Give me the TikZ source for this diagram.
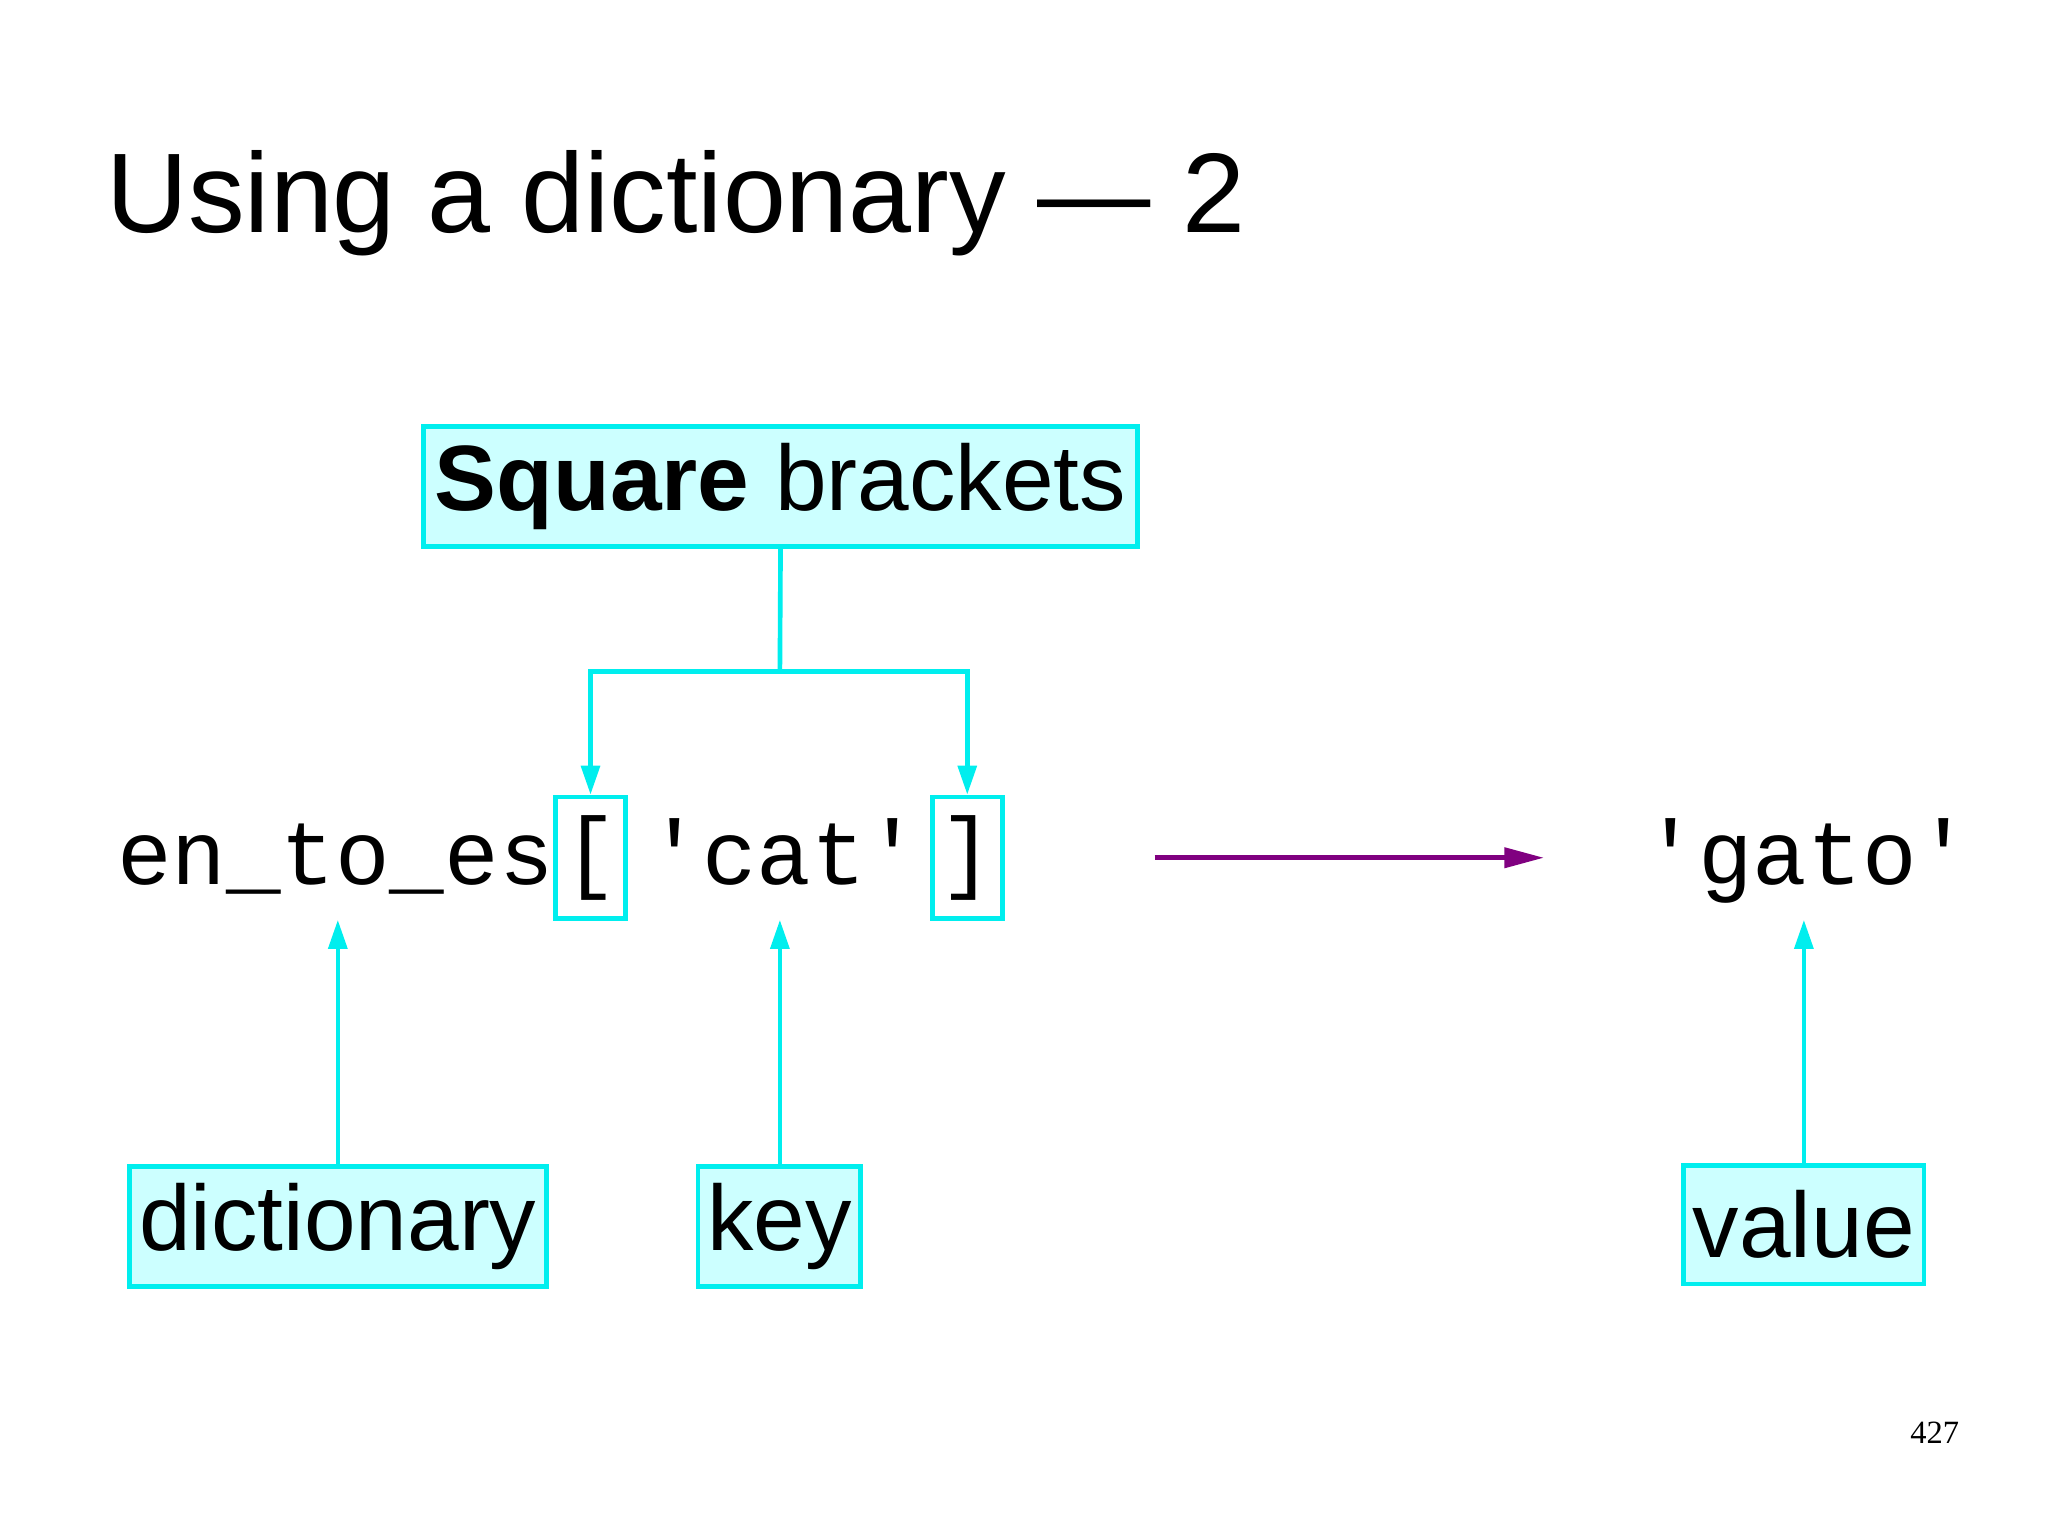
\documentclass[tikz,border=0pt]{standalone}
\usepackage{fontspec}
\setmainfont{Liberation Sans}
\newfontfamily\monof{Liberation Mono}
\newfontfamily\serf{Liberation Serif}
\usetikzlibrary{arrows.meta}
\definecolor{cy}{HTML}{00EEEE}
\definecolor{cyfill}{HTML}{CCFFFF}
\definecolor{pur}{HTML}{800080}
\tikzset{
 lbl/.style={draw=cy,line width=1pt,fill=cyfill,inner sep=0pt,font=\fontsize{20}{22}\selectfont},
 brk/.style={draw=cy,line width=1pt,inner sep=0pt,minimum width=0.53cm,minimum height=0.92cm,font=\monof\fontsize{19.6}{22}\selectfont},
 code/.style={anchor=base west,inner sep=0pt,font=\monof\fontsize{19.6}{22}\selectfont},
 cyarr/.style={draw=cy,line width=1pt,-{Triangle[length=0.22cm,width=0.14cm]}},
}
\begin{document}
\begin{tikzpicture}[x=0.01cm,y=-0.01cm]
\useasboundingbox (0,0) rectangle (1552,1163);
\fill[white] (0,0) rectangle (1552,1163);
\node[anchor=base west,inner sep=0pt,font=\fontsize{24.4}{28}\selectfont] (title) at (80,176) {Using a dictionary — 2};
\node[lbl,minimum width=5.41cm,minimum height=0.91cm] (sq) at (591.5,368.5) {\textbf{Square} brackets};
\node[code] (en) at (88,670) {en\_to\_es};
\node[brk] (lb) at (447.5,650) {[};
\node[code] (cat) at (490,670) {'cat'};
\node[brk] (rb) at (733,650) {]};
\node[code] (gato) at (1245,670) {'gato'};
\node[lbl,minimum width=3.16cm,minimum height=0.91cm] (dict) at (256,929.5) {dictionary};
\node[lbl,minimum width=1.23cm,minimum height=0.91cm] (key) at (590.5,929.5) {key};
\node[lbl,minimum width=1.82cm,minimum height=0.90cm] (val) at (1367,928) {value};
\coordinate (j) at (591,509);
\draw[cy,line width=1pt] (sq.south) -- (j);
\draw[cyarr] (j) -| (lb.north);
\draw[cyarr] (j) -| (rb.north);
\coordinate (dt) at (256,697);
\coordinate (kt) at (591,697);
\coordinate (vt) at (1367,697);
\draw[cyarr] (dict.north) -- (dt);
\draw[cyarr] (key.north -| kt) -- (kt);
\draw[cyarr] (val.north) -- (vt);
\coordinate (p1) at (875,650);
\coordinate (p2) at (1170,650);
\draw[pur,line width=1pt,-{Triangle[length=0.3cm,width=0.15cm]}] (p1) -- (p2);
\node[anchor=base west,inner sep=0pt,font=\serf\fontsize{7}{9}\selectfont] (pg) at (1447,1094) {427};
\end{tikzpicture}
\end{document}
